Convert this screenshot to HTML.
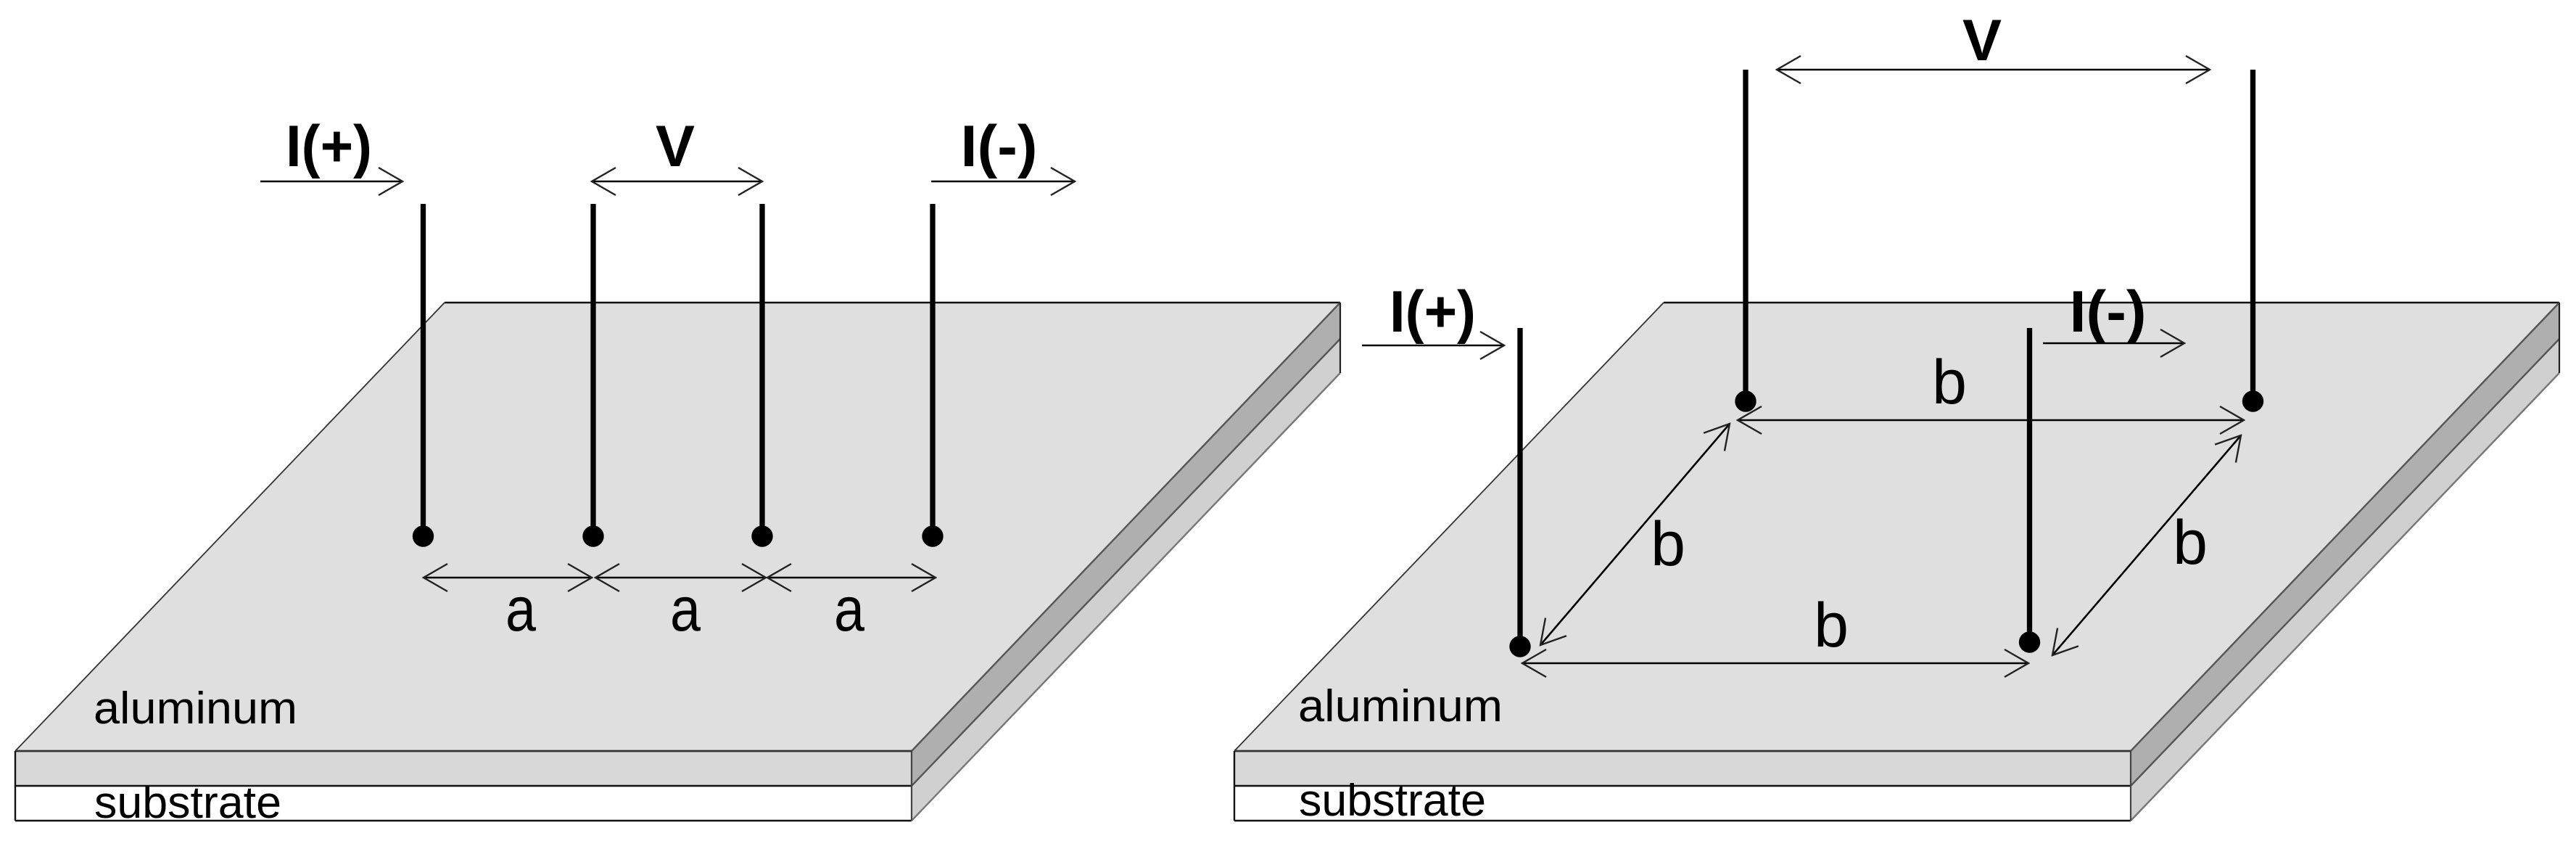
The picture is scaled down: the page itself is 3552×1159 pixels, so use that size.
<!DOCTYPE html>
<html><head><meta charset="utf-8"><style>
html,body{margin:0;padding:0;background:#fff;width:3552px;height:1159px;overflow:hidden}
svg{display:block}
text{font-family:"Liberation Sans",sans-serif;fill:#000}
.h{font-weight:bold;font-size:81px}
.l{font-size:86px}
.s{font-size:62px}
.w{stroke:#000;stroke-width:7.3;fill:none}
.a{stroke:#000;stroke-width:2.6;fill:none;marker-end:url(#m);}
.d{stroke:#000;stroke-width:2.6;fill:none;marker-end:url(#m);marker-start:url(#m);}
</style></head><body>
<svg width="3552" height="1159" viewBox="0 0 3552 1159" xmlns="http://www.w3.org/2000/svg">
<defs>
<marker id="m" markerUnits="userSpaceOnUse" viewBox="-36 -22 38 44" refX="0" refY="0" markerWidth="38" markerHeight="44" orient="auto-start-reverse">
<polyline points="-33,-19 0,0 -33,19" fill="none" stroke="#222" stroke-width="2.4"/>
</marker>
<g id="plate">
<polygon points="613,417 1848,417 1257,1035 21,1035" fill="#dfdfdf"/>
<polygon points="21,1035 1257,1035 1257,1083 21,1083" fill="#d8d8d8"/>
<polygon points="21,1083 1257,1083 1257,1131 21,1131" fill="#fff"/>
<polygon points="1257,1035 1848,417 1848,467 1257,1083" fill="#afafaf"/>
<polygon points="1257,1083 1848,467 1848,514 1257,1131" fill="#d0d0d0"/>
<path d="M21,1035L613,417" stroke="#333" stroke-width="1.8" fill="none"/>
<path d="M613,417H1848" stroke="#111" stroke-width="2.6" fill="none"/>
<path d="M1257,1035L1848,417M1257,1083L1848,467" stroke="#555" stroke-width="2.4" fill="none"/>
<path d="M1257,1131L1848,514" stroke="#777" stroke-width="2.4" fill="none"/>
<path d="M1848,417V514" stroke="#222" stroke-width="2.2" fill="none"/>
<path d="M21,1035H1257" stroke="#333" stroke-width="2.8" fill="none"/>
<path d="M21,1083H1257M21,1131H1257M21,1035V1131" stroke="#111" stroke-width="2.4" fill="none"/>
<path d="M1257,1035V1131" stroke="#444" stroke-width="2.2" fill="none"/>
</g>
</defs>
<use href="#plate"/>
<use href="#plate" x="1681"/>

<!-- left wires -->
<path class="w" d="M583.5,281V739M818,281V739M1051,281V739M1286,281V739"/>
<circle cx="583.5" cy="739" r="14.7"/><circle cx="818" cy="739" r="14.7"/><circle cx="1051" cy="739" r="14.7"/><circle cx="1286" cy="739" r="14.7"/>
<!-- left arrows -->
<path class="a" d="M359,250H555"/>
<path class="d" d="M816,250H1051"/>
<path class="a" d="M1284,250H1482"/>
<path class="d" d="M584,796H816"/>
<path class="d" d="M821,796H1056"/>
<path class="d" d="M1058,796H1290"/>
<!-- left labels -->
<text class="h" x="394" y="229" textLength="119" lengthAdjust="spacingAndGlyphs">I(+)</text>
<text class="h" x="931" y="229" text-anchor="middle">V</text>
<text class="h" x="1324.5" y="229" textLength="106" lengthAdjust="spacingAndGlyphs">I(-)</text>
<text class="l" x="718" y="869" text-anchor="middle" textLength="42" lengthAdjust="spacingAndGlyphs">a</text>
<text class="l" x="945" y="869" text-anchor="middle" textLength="42" lengthAdjust="spacingAndGlyphs">a</text>
<text class="l" x="1171" y="869" text-anchor="middle" textLength="42" lengthAdjust="spacingAndGlyphs">a</text>
<text class="s" x="129" y="997" textLength="281" lengthAdjust="spacingAndGlyphs">aluminum</text>
<text class="s" x="130" y="1127" textLength="258" lengthAdjust="spacingAndGlyphs">substrate</text>

<!-- right wires -->
<path class="w" d="M2407,96V553M3106.5,96V553M2096,452V891M2798.5,452V885"/>
<circle cx="2407" cy="553" r="14.7"/><circle cx="3106.5" cy="553" r="14.7"/><circle cx="2096" cy="891" r="14.7"/><circle cx="2798.5" cy="885" r="14.7"/>
<!-- right arrows -->
<path class="d" d="M2450,96H3047"/>
<path class="a" d="M1878,476H2074"/>
<path class="a" d="M2817,473H3012"/>
<path class="d" d="M2396,579H3094"/>
<path class="d" d="M2099,914H2797"/>
<path class="d" d="M2124,889L2385,584"/>
<path class="d" d="M2830,903L3090,600"/>
<!-- right labels -->
<text class="h" x="2733" y="83" text-anchor="middle">V</text>
<text class="h" x="1916" y="457" textLength="119" lengthAdjust="spacingAndGlyphs">I(+)</text>
<text class="h" x="2853.5" y="457" textLength="106" lengthAdjust="spacingAndGlyphs">I(-)</text>
<text class="l" x="2688" y="556" text-anchor="middle">b</text>
<text class="l" x="2300" y="779" text-anchor="middle">b</text>
<text class="l" x="2525" y="891" text-anchor="middle">b</text>
<text class="l" x="3020" y="777" text-anchor="middle">b</text>
<text class="s" x="1790" y="994" textLength="282" lengthAdjust="spacingAndGlyphs">aluminum</text>
<text class="s" x="1791" y="1124" textLength="258" lengthAdjust="spacingAndGlyphs">substrate</text>
</svg>
</body></html>
